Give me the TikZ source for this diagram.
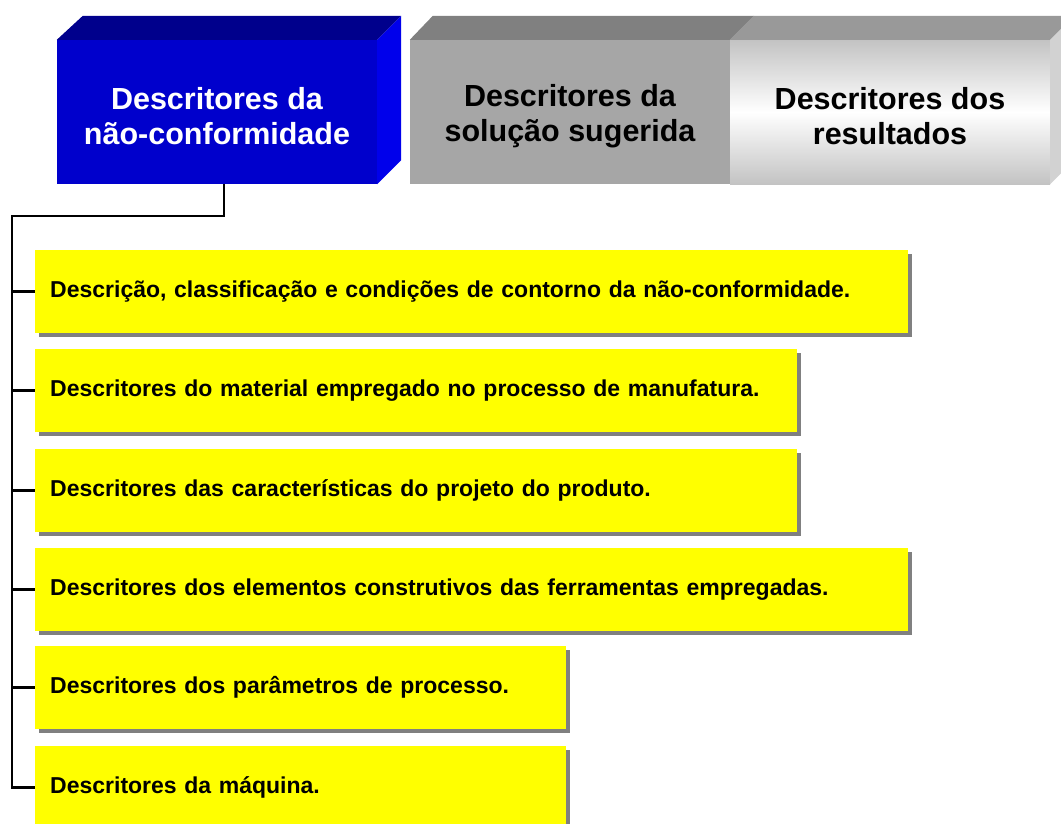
\documentclass[tikz,border=0pt]{standalone}
\usepackage{fontspec}
\setmainfont{Liberation Sans}
\usetikzlibrary{shadows}
\definecolor{bluefront}{RGB}{0,0,204}
\definecolor{bluetop}{RGB}{0,0,140}
\definecolor{blueside}{RGB}{0,0,235}
\definecolor{grayfront}{RGB}{166,166,166}
\definecolor{graytop}{RGB}{128,128,128}
\definecolor{lighttop}{RGB}{153,153,153}
\definecolor{lightside}{RGB}{210,210,210}
\definecolor{lightedge}{RGB}{195,195,195}
\definecolor{shadowgray}{RGB}{128,128,128}
\definecolor{boxyellow}{RGB}{255,255,0}
\tikzset{
  headbox/.style={minimum width=320pt, minimum height=144pt, inner sep=0pt},
  headtext/.style={inner sep=0pt, align=center, yshift=-4pt,
    font=\fontsize{30.5}{35.5}\selectfont\bfseries},
  ybox/.style={fill=boxyellow, anchor=north west, minimum height=83pt, inner xsep=15pt,
    inner ysep=0pt, align=left, font=\fontsize{23}{27}\selectfont\bfseries,
    drop shadow={shadow xshift=4pt, shadow yshift=-4pt, fill=shadowgray, opacity=1}},
  conn/.style={line width=2.8pt, black}
}
\begin{document}
\begin{tikzpicture}[x=1pt,y=-1pt]
\useasboundingbox (0,0) rectangle (1061,823);
% 3D header boxes
\node[headbox, fill=bluefront] (blue) at (217,112) {};
\fill[bluetop] (blue.north west) -- ++(26,-24) -- ([shift={(24,-24)}]blue.north east) -- (blue.north east) -- cycle;
\fill[blueside] (blue.north east) -- ++(24,-24) -- ([shift={(24,-24)}]blue.south east) -- (blue.south east) -- cycle;
\node[headtext, text=white] (bluetxt) at (blue.center) {Descritores da\\não-conformidade};

\node[headbox, fill=grayfront] (sol) at (570,112) {};
\fill[graytop] (sol.north west) -- ++(23,-24) -- ([shift={(24,-24)}]sol.north east) -- (sol.north east) -- cycle;
\node[headtext, text=black] (soltxt) at (sol.center) {Descritores da\\solução sugerida};

\node[headbox, top color=lightedge, bottom color=lightedge, middle color=white] (res) at (890,112) {};
\fill[lighttop] (res.north west) -- ++(24,-24) -- ([shift={(24,-24)}]res.north east) -- (res.north east) -- cycle;
\fill[lightside] (res.north east) -- ++(24,-24) -- ([shift={(24,-24)}]res.south east) -- (res.south east) -- cycle;
\node[headtext, text=black] (restxt) at (res.center) {Descritores dos\\resultados};

% yellow boxes
\node[ybox, text width=843pt] (b1) at (35,250) {Descrição, classificação e condições de contorno da não-conformidade.};
\node[ybox, text width=732pt] (b2) at (35,349) {Descritores do material empregado no processo de manufatura.};
\node[ybox, text width=732pt] (b3) at (35,449) {Descritores das características do projeto do produto.};
\node[ybox, text width=843pt] (b4) at (35,548) {Descritores dos elementos construtivos das ferramentas empregadas.};
\node[ybox, text width=501pt] (b5) at (35,646) {Descritores dos parâmetros de processo.};
\node[ybox, text width=501pt] (b6) at (35,746) {Descritores da máquina.};

% connectors
\coordinate (top) at (224,216);
\coordinate (spine) at (12,216);
\draw[conn] ([xshift=7pt]blue.south) -- (top) -- (spine) -- (spine |- b6.west) -- (b6.west);
\foreach \b in {b1,b2,b3,b4,b5}{
  \draw[conn] (spine |- \b.west) -- (\b.west);
}
\end{tikzpicture}
\end{document}
